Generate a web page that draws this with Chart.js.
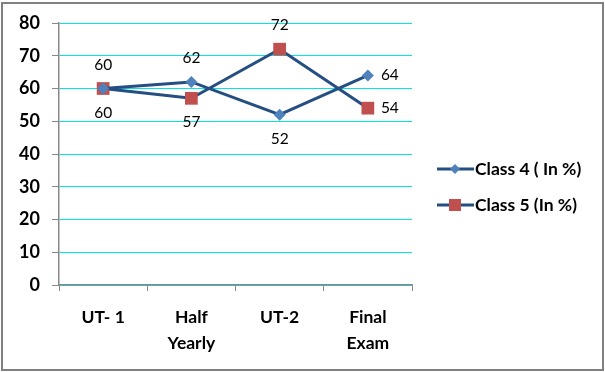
<!DOCTYPE html>
<html><head><meta charset="utf-8">
<script src="https://cdn.jsdelivr.net/npm/chart.js@4/dist/chart.umd.min.js"></script>
<style>html,body{margin:0;padding:0;background:#fff}#wrap{width:605px;height:372px;position:relative}</style>
</head><body><div id="wrap"><canvas id="c" width="605" height="372"></canvas></div>
<script>
const categories = [['UT- 1'], ['Half', 'Yearly'], ['UT-2'], ['Final', 'Exam']];
const seriesNames = ['Class 4 ( In %)', 'Class 5 (In %)'];
const class4 = [60, 62, 52, 64];
const class5 = [60, 57, 72, 54];
const yTicks = [0, 10, 20, 30, 40, 50, 60, 70, 80];

// label placement (style only)
const labelPos = [
  ['above', 'above', 'below', 'right'],
  ['below', 'below', 'above', 'right']
];

const LINE = '#254E82';
const FONT = 'Lato, "Open Sans", sans-serif';

const labelPlugin = {
  id: 'labels',
  afterDatasetsDraw(chart) {
    const ctx = chart.ctx;
    ctx.save();
    ctx.font = '15.5px ' + FONT;
    ctx.fillStyle = '#000';
    ctx.textBaseline = 'middle';
    chart.data.datasets.forEach((ds, di) => {
      const meta = chart.getDatasetMeta(di);
      meta.data.forEach((pt, i) => {
        const pos = labelPos[di][i];
        let x = pt.x, y = pt.y;
        ctx.textAlign = 'center';
        if (pos === 'above') y -= 24;
        else if (pos === 'below') y += 24;
        else { x += 13; ctx.textAlign = 'left'; }
        ctx.fillText(String(ds.data[i]), x, y);
      });
    });
    ctx.restore();
  }
};

const legendPlugin = {
  id: 'customLegend',
  afterDraw(chart) {
    const ctx = chart.ctx;
    ctx.save();
    // outer border
    ctx.strokeStyle = '#808080';
    ctx.lineWidth = 2;
    ctx.strokeRect(2, 3, 601, 367);
    const items = [
      { y: 169, style: 'diamond', color: '#4F81BD' },
      { y: 205, style: 'square', color: '#C0504D' }
    ];
    items.forEach((it, i) => {
      ctx.strokeStyle = LINE;
      ctx.lineWidth = 3;
      ctx.beginPath(); ctx.moveTo(437, it.y); ctx.lineTo(474, it.y); ctx.stroke();
      ctx.fillStyle = it.color;
      const cx = 455;
      if (it.style === 'diamond') {
        ctx.beginPath();
        ctx.moveTo(cx, it.y - 5); ctx.lineTo(cx + 5, it.y); ctx.lineTo(cx, it.y + 5); ctx.lineTo(cx - 5, it.y);
        ctx.closePath(); ctx.fill();
      } else {
        ctx.fillRect(cx - 6, it.y - 6, 12, 12);
      }
      ctx.fillStyle = '#000';
      ctx.font = 'bold 17.5px ' + FONT;
      ctx.textAlign = 'left';
      ctx.textBaseline = 'middle';
      ctx.fillText(seriesNames[i], 475, it.y);
    });
    ctx.restore();
  }
};

new Chart(document.getElementById('c'), {
  type: 'line',
  data: {
    labels: categories,
    datasets: [
      { label: seriesNames[0], data: class4, borderColor: LINE, borderWidth: 3,
        pointStyle: 'rectRot', pointRadius: 6, pointBackgroundColor: '#4F81BD', pointBorderColor: '#4F81BD', pointBorderWidth: 0, tension: 0 },
      { label: seriesNames[1], data: class5, borderColor: LINE, borderWidth: 3,
        pointStyle: 'rect', pointRadius: 9, pointBackgroundColor: '#C0504D', pointBorderColor: '#C0504D', pointBorderWidth: 0, tension: 0 }
    ]
  },
  options: {
    responsive: false,
    animation: false,
    events: [],
    layout: { padding: { left: 0, top: 23, right: 193, bottom: 0 } },
    plugins: { legend: { display: false }, tooltip: { enabled: false } },
    scales: {
      x: {
        offset: true,
        grid: { display: true, drawOnChartArea: false, drawTicks: true, tickLength: 6, tickColor: '#888', offset: true },
        border: { color: '#888', width: 1.5 },
        ticks: { color: '#000', font: { family: FONT, size: 17.5, weight: 'bold', lineHeight: 1.45 }, padding: 14, maxRotation: 0 },
        afterFit(s) { s.height = 87; }
      },
      y: {
        min: 0, max: 80,
        afterBuildTicks(s) { s.ticks = yTicks.map(v => ({ value: v })); },
        grid: { color: '#00E5E5', lineWidth: 1, tickColor: '#888', tickLength: 7 },
        border: { color: '#888', width: 1.5 },
        ticks: { color: '#000', font: { family: FONT, size: 18, weight: 'bold' }, padding: 12 },
        afterFit(s) { s.width = 59; }
      }
    }
  },
  plugins: [labelPlugin, legendPlugin]
});
</script></body></html>
